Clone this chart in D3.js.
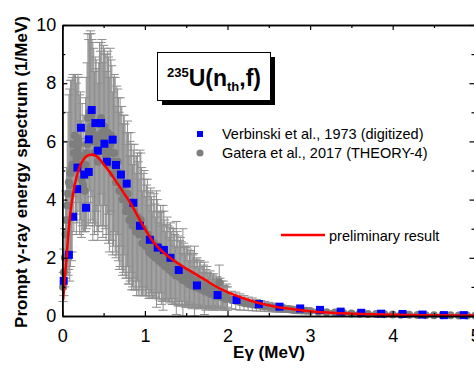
<!DOCTYPE html>
<html><head><meta charset="utf-8">
<script src="https://cdn.jsdelivr.net/npm/d3@7"></script>
<style>
html,body{margin:0;padding:0;background:#fff;}
svg{display:block;font-family:"Liberation Sans",Arial,Helvetica,sans-serif;}
</style></head>
<body>
<svg id="c" width="474" height="369"></svg>
<script>
// ---- data ----
const verbE = [0.017,0.08,0.13,0.18,0.183,0.226,0.266,0.287,0.32,0.32,0.356,0.40,0.43,0.47,0.51,0.54,0.61,0.65,0.71,0.78,0.86,0.94,1.06,1.155,1.23,1.31,1.41,1.63,1.88,2.11,2.38,2.63,2.88,3.12,3.37,3.62,3.86,4.12,4.36,4.62,4.86];
const verbY = [1.21,2.10,3.41,4.36,5.10,6.47,4.86,3.72,6.07,4.95,7.08,6.63,5.68,6.63,5.92,5.30,6.06,5.19,4.86,4.55,3.89,3.10,2.62,2.35,2.27,2.00,1.58,1.05,0.72,0.55,0.41,0.32,0.26,0.21,0.15,0.11,0.08,0.07,0.05,0.03,0.03];

// Gatera et al. (THEORY-4), even grid
const gatE = [0.02,0.04,0.06,0.08,0.10,0.12,0.14,0.16,0.18,0.20,0.22,0.24,0.26,0.28,0.30,0.32,0.34,0.36,0.38,0.40,
0.42,0.44,0.46,0.48,0.50,0.52,0.54,0.56,0.58,0.60,0.62,0.64,0.66,0.68,0.70,0.72,0.74,0.76,0.78,0.80,
0.82,0.84,0.86,0.88,0.90,0.92,0.94,0.96,0.98,1.00,1.02,1.04,1.06,1.08,1.10,1.12,1.14,1.16,1.18,1.20,
1.22,1.24,1.26,1.28,1.30,1.32,1.34,1.36,1.38,1.40,1.42,1.44,1.46,1.48,1.50,1.52,1.54,1.56,1.58,1.60,
1.62,1.64,1.66,1.68,1.70,1.72,1.74,1.76,1.78,1.80,1.82,1.84,1.86,1.88,1.90,1.92,1.94,1.96,1.98,2.00,
2.05,2.10,2.15,2.20,2.25,2.30,2.35,2.40,2.45,2.50,2.55,2.60,2.65,2.70,2.75,2.80,2.85,2.90,2.95,3.00,
3.1,3.2,3.3,3.4,3.5,3.6,3.7,3.8,3.9,4.0,4.1,4.2,4.3,4.4,4.5,4.6,4.7,4.8,4.9,5.0];
const gatY = [1.5,2.8,3.8,4.6,4.9,5.2,5.6,5.9,5.7,5.9,5.5,5.2,4.9,5.2,5.9,6.3,6.5,6.4,6.2,6.0,
5.7,5.8,6.1,6.3,6.2,6.0,5.9,5.7,5.9,5.6,5.3,5.2,5.0,4.7,4.6,4.4,4.2,4.0,3.8,3.7,
3.6,3.4,3.3,3.2,3.1,3.0,3.2,2.9,2.8,2.7,2.6,2.5,2.45,2.4,2.3,2.25,2.3,2.1,2.05,2.0,
2.0,1.9,1.85,1.8,1.75,1.7,1.7,1.6,1.65,1.55,1.5,1.45,1.5,1.4,1.35,1.3,1.3,1.25,1.2,1.2,
1.15,1.1,1.05,1.0,1.0,0.95,0.9,0.9,0.85,0.85,0.8,0.8,0.75,0.8,1.15,0.7,0.65,0.65,0.6,0.6,
0.55,0.52,0.48,0.45,0.42,0.40,0.37,0.35,0.33,0.31,0.29,0.27,0.26,0.24,0.23,0.21,0.20,0.19,0.18,0.17,
0.15,0.13,0.12,0.10,0.09,0.08,0.07,0.065,0.06,0.05,0.045,0.04,0.035,0.03,0.028,0.025,0.022,0.02,0.018,0.016];
const gatErr = [0.8,1.5,2.2,3.0,3.2,3.0,2.7,2.4,2.5,2.3,2.2,2.1,2.0,2.3,2.8,3.2,3.3,3.1,3.0,2.9,
2.8,2.9,3.0,3.2,3.1,3.0,3.1,3.2,3.3,3.0,2.9,3.0,2.9,2.8,2.9,2.8,2.7,2.6,2.5,2.6,
2.4,2.5,2.4,2.3,2.4,2.3,2.5,2.2,2.1,2.0,1.9,1.8,1.8,1.7,1.7,1.6,2.0,1.5,1.5,1.6,
1.8,1.4,1.3,1.3,1.3,1.2,1.3,1.2,1.6,1.2,1.1,1.1,1.5,1.0,1.0,1.0,0.9,0.9,0.9,1.2,
0.8,0.8,0.8,0.7,0.7,0.9,0.7,0.6,0.6,0.6,0.6,0.5,0.5,0.5,0.6,0.5,0.4,0.4,0.4,0.4,
0.3,0.3,0.28,0.25,0.23,0.22,0.2,0.18,0.17,0.16,0.15,0.14,0.13,0.12,0.11,0.1,0.1,0.09,0.08,0.08,
0.07,0.06,0.05,0.05,0.04,0.04,0.03,0.03,0.03,0.02,0.02,0.02,0.02,0.02,0.02,0.02,0.02,0.02,0.02,0.02];

// Gatera et al. (THEORY-4), odd grid
const gatE2 = [0.01,0.03,0.05,0.07,0.09,0.11,0.13,0.15,0.17,0.19,0.21,0.23,0.25,0.27,0.29,0.31,0.33,0.35,0.37,0.39,
0.41,0.43,0.45,0.47,0.49,0.51,0.53,0.55,0.57,0.59,0.61,0.63,0.65,0.67,0.69,0.71,0.73,0.75,0.77,0.79,
0.81,0.83,0.85,0.87,0.89,0.91,0.93,0.95,0.97,0.99,1.01,1.03,1.05,1.07,1.09,1.11,1.13,1.15,1.17,1.19,
1.21,1.23,1.25,1.27,1.29,1.31,1.33,1.35,1.37,1.39,1.41,1.43,1.45,1.47,1.49,1.51,1.53,1.55,1.57,1.59,
1.61,1.63,1.65,1.67,1.69,1.71,1.73,1.75,1.77,1.79,1.81,1.83,1.85,1.87,1.89,1.91,1.93,1.95,1.97,1.99];
const gatY2 = [1.0,2.0,3.3,4.2,4.5,5.0,5.9,6.2,5.4,6.1,5.2,4.7,4.5,4.3,5.6,6.8,7.0,6.9,6.0,5.6,
6.2,5.3,6.6,6.8,5.7,6.5,5.5,6.3,5.2,6.2,4.9,5.6,4.6,5.3,4.3,4.8,4.0,4.5,3.6,4.2,
3.3,3.9,3.1,3.6,2.9,3.4,2.8,3.3,2.5,3.0,2.4,2.8,2.2,2.6,2.1,2.5,2.0,2.4,1.9,2.3,
1.8,2.1,1.7,2.0,1.6,1.9,1.5,1.8,1.4,1.7,1.35,1.6,1.25,1.5,1.2,1.4,1.1,1.35,1.05,1.25,
1.0,1.2,0.95,1.1,0.9,1.05,0.85,1.0,0.8,0.95,0.75,0.9,0.7,0.85,0.7,0.8,0.65,0.75,0.6,0.7];
const gatErr2 = [0.5,1.0,1.8,2.8,3.3,3.1,2.4,2.1,2.6,2.2,2.4,2.0,1.6,1.4,2.6,2.9,2.7,2.8,3.4,2.8,
2.6,2.7,2.8,2.6,3.0,2.7,2.9,2.8,3.0,2.6,2.8,2.7,2.6,2.5,2.7,2.4,2.6,2.4,2.3,2.5,
2.2,2.4,2.1,2.3,2.0,2.2,1.9,2.3,1.8,2.0,1.7,1.9,1.6,1.8,1.5,1.7,1.4,1.6,1.3,1.5,
1.3,1.5,1.2,1.4,1.1,1.3,1.1,1.2,1.0,1.2,1.0,1.1,0.9,1.0,0.9,1.0,0.8,0.9,0.8,0.9,
0.7,0.8,0.7,0.8,0.6,0.7,0.6,0.7,0.55,0.6,0.5,0.55,0.5,0.5,0.45,0.5,0.4,0.45,0.4,0.4];

const fitE = [0.01,0.03,0.05,0.07,0.09,0.12,0.15,0.2,0.25,0.3,0.36,0.42,0.5,0.58,0.64,0.7,0.76,0.84,0.9,0.96,1.02,1.08,1.16,1.24,1.32,1.40,1.5,1.61,1.73,1.85,2.0,2.2,2.4,2.6,2.8,3.0,3.3,3.6,4.0,4.5,5.0];
const fitY = [0.55,1.3,1.95,2.7,3.35,4.0,4.5,5.05,5.35,5.5,5.55,5.48,5.22,4.92,4.67,4.42,4.16,3.81,3.5,3.19,2.9,2.63,2.36,2.15,1.97,1.81,1.63,1.45,1.24,1.03,0.82,0.6,0.43,0.31,0.23,0.16,0.1,0.07,0.04,0.025,0.02];

const xTicks = [0,1,2,3,4,5];
const xMinor = [0.5,1.5,2.5,3.5,4.5];
const yTicks = [0,2,4,6,8,10];
const yMinor = [1,3,5,7,9];
const legendLabels = ["Verbinski et al., 1973 (digitized)","Gatera et al., 2017 (THEORY-4)","preliminary result"];

// ---- drawing ----
const svg = d3.select("#c");
const x = d3.scaleLinear().domain([0,5]).range([62.3,475.3]);
const y = d3.scaleLinear().domain([0,10]).range([316,25]);

// gray error bars
const gat = gatE.map((e,i)=>({e, v:gatY[i], s:gatErr[i]}))
  .concat(gatE2.map((e,i)=>({e, v:gatY2[i], s:gatErr2[i]})));
const g = svg.append("g");
const eb = g.append("g").attr("stroke","#8e8e8e").attr("stroke-width",1).attr("fill","none");
gat.forEach(d=>{
  const cx = x(d.e), y1 = y(d.v+d.s), y0 = y(Math.max(d.v-d.s,0));
  eb.append("line").attr("x1",cx).attr("x2",cx).attr("y1",y1).attr("y2",y0);
  eb.append("line").attr("x1",cx-4.5).attr("x2",cx+4.5).attr("y1",y1).attr("y2",y1);
  eb.append("line").attr("x1",cx-4.5).attr("x2",cx+4.5).attr("y1",y0).attr("y2",y0);
});
g.append("g").selectAll("circle").data(gat).join("circle")
  .attr("cx",d=>x(d.e)).attr("cy",d=>y(d.v)).attr("r",4).attr("fill","#7e7e7e");

// blue squares
svg.append("g").selectAll("rect").data(verbE.map((e,i)=>[e,verbY[i]])).join("rect")
  .attr("x",d=>x(d[0])-4).attr("y",d=>y(d[1])-4).attr("width",8).attr("height",8).attr("fill","#0000ff");

// red line
svg.append("path").datum(fitE.map((e,i)=>[e,fitY[i]]))
  .attr("d", d3.line().x(d=>x(d[0])).y(d=>y(d[1])).curve(d3.curveMonotoneX))
  .attr("fill","none").attr("stroke","#ff0000").attr("stroke-width",2.5);

// axes
const fs = "18px";
const xa = svg.append("g").attr("transform","translate(0,316)")
  .call(d3.axisBottom(x).tickValues(xTicks).tickFormat(d3.format("d")).tickSizeInner(-5).tickSizeOuter(0).tickPadding(13));
const xt = svg.append("g").attr("transform","translate(0,25)")
  .call(d3.axisTop(x).tickValues(xTicks).tickFormat("").tickSizeInner(-5).tickSizeOuter(0));
const xm = svg.append("g").attr("transform","translate(0,316)")
  .call(d3.axisBottom(x).tickValues(xMinor).tickFormat("").tickSizeInner(-3).tickSizeOuter(0));
const xmt = svg.append("g").attr("transform","translate(0,25)")
  .call(d3.axisTop(x).tickValues(xMinor).tickFormat("").tickSizeInner(-3).tickSizeOuter(0));
const ya = svg.append("g").attr("transform","translate(62.3,0)")
  .call(d3.axisLeft(y).tickValues(yTicks).tickFormat(d3.format("d")).tickSizeInner(-5).tickSizeOuter(0).tickPadding(6));
const ym = svg.append("g").attr("transform","translate(62.3,0)")
  .call(d3.axisLeft(y).tickValues(yMinor).tickFormat("").tickSizeInner(-3).tickSizeOuter(0));
const yr = svg.append("g").attr("transform","translate(474.5,0)")
  .call(d3.axisRight(y).tickValues(yTicks).tickFormat("").tickSizeInner(-5).tickSizeOuter(0));
const yrm = svg.append("g").attr("transform","translate(474.5,0)")
  .call(d3.axisRight(y).tickValues(yMinor).tickFormat("").tickSizeInner(-3).tickSizeOuter(0));
[xa,xt,xm,xmt,ya,ym,yr,yrm].forEach(a=>{
  a.selectAll("path.domain").attr("stroke","#000").attr("stroke-width",1.5);
  a.selectAll(".tick line").attr("stroke","#000").attr("stroke-width",1.2);
  a.selectAll("text").attr("font-size",fs).attr("fill","#000").attr("font-family","Liberation Sans, Arial, sans-serif");
});

// axis titles
svg.append("text").attr("x",269).attr("y",358).attr("text-anchor","middle")
  .attr("font-size","17px").attr("font-weight","bold").text("Eγ (MeV)");
svg.append("text").attr("transform","translate(27,172) rotate(-90)").attr("text-anchor","middle")
  .attr("font-size","17px").attr("font-weight","bold").text("Prompt γ-ray energy spectrum (1/MeV)");

// title box
svg.append("rect").attr("x",162).attr("y",57).attr("width",113).attr("height",48).attr("fill","#000");
svg.append("rect").attr("x",157.5).attr("y",52.5).attr("width",113).attr("height",48).attr("fill","#fff").attr("stroke","#000").attr("stroke-width",1);
const t = svg.append("text").attr("x",214).attr("y",86).attr("text-anchor","middle").attr("font-weight","bold").attr("font-size","23px");
t.append("tspan").attr("font-size","13px").attr("dy","-9").text("235");
t.append("tspan").attr("dy","9").text("U(n");
t.append("tspan").attr("font-size","13px").attr("dy","5").text("th");
t.append("tspan").attr("dy","-5").text(",f)");

// legend
svg.append("rect").attr("x",197).attr("y",131).attr("width",6).attr("height",6).attr("fill","#0000ff");
svg.append("circle").attr("cx",200).attr("cy",153).attr("r",3.5).attr("fill","#7e7e7e");
svg.append("text").attr("x",222).attr("y",139).attr("font-size","14.5px").text(legendLabels[0]);
svg.append("text").attr("x",222).attr("y",158).attr("font-size","14.5px").text(legendLabels[1]);
svg.append("line").attr("x1",281).attr("x2",325).attr("y1",235).attr("y2",235).attr("stroke","#ff0000").attr("stroke-width",2.5);
svg.append("text").attr("x",329).attr("y",241).attr("font-size","14.5px").text(legendLabels[2]);
</script>
</body></html>
